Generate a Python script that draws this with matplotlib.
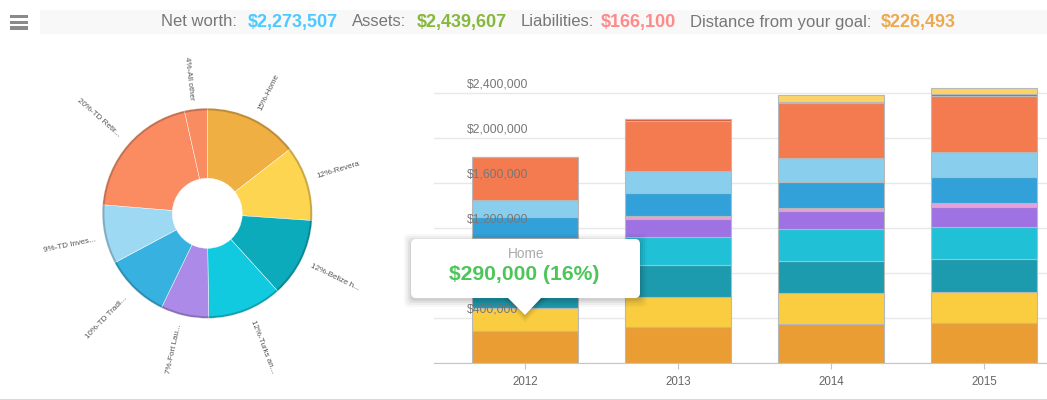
import matplotlib
matplotlib.use("Agg")
import matplotlib.pyplot as plt
from matplotlib.patches import FancyBboxPatch, Polygon, Rectangle

plt.rcParams["font.family"] = ["Liberation Sans", "DejaVu Sans"]

W, H = 1047, 400

# pie
pie_labels = ["15%-Home", "12%-Revera", "12%-Belize h...", "12%-Turks an...", "7%-Fort Lau...",
              "10%-TD Tradi...", "9%-TD Inves...", "20%-TD Retir...", "4%-All other"]
pie_values = [14.5, 11.6, 12.2, 11.5, 7.4, 10.0, 9.1, 20.2, 3.5]
pie_colors = ["#EFAF42", "#FDD551", "#0BABBB", "#12CADF", "#AC8BE8",
              "#37B1DF", "#9ED9F4", "#FB8C62", "#FA8C62"]

# stacked bars, dollars, bottom to top
years = ["2012", "2013", "2014", "2015"]
home = [290000, 320000, 347000, 356000]
revera = [202000, 272000, 281000, 281000]
belize = [243000, 284000, 284000, 293000]
turks = [226000, 243000, 284000, 284000]
fort = [142000, 166000, 160000, 178000]
pink = [15000, 27000, 21000, 30000]
td_trad = [184000, 204000, 237000, 237000]
td_inv = [154000, 190000, 213000, 222000]
td_retire = [374000, 447000, 486000, 495000]
red = [0, 15000, 12000, 15000]
all_other = [0, 0, 56000, 53000]

series = [home, revera, belize, turks, fort, pink, td_trad, td_inv, td_retire, red, all_other]
bar_colors = ["#EA9D33", "#FACD40", "#1C9AAE", "#20C1D6", "#9E72E2", "#E8A0DC",
              "#32A1DA", "#8ACEEE", "#F47A50", "#E8502F", "#FBD368"]

y_ticks = [0, 400000, 800000, 1200000, 1600000, 2000000, 2400000]
# $800,000 sits behind the tooltip in the reference
y_labelled = [400000, 1200000, 1600000, 2000000, 2400000]

header = [("Net worth:", 161, "#777777", False), ("$2,273,507", 248, "#4CC9FF", True),
          ("Assets:", 352, "#777777", False), ("$2,439,607", 417, "#86B83C", True),
          ("Liabilities:", 521, "#777777", False), ("$166,100", 601, "#FF8A8A", True),
          ("Distance from your goal:", 690, "#777777", False), ("$226,493", 881, "#EBAA50", True)]

fig = plt.figure(figsize=(W / 100, H / 100), dpi=100)

# pie: 105 px radius around (207, 213)
size = 340
ax_pie = fig.add_axes([(207.3 - size / 2) / W, (H - 213.3 - size / 2) / H, size / W, size / H])
wedges, texts = ax_pie.pie(pie_values, labels=pie_labels, colors=pie_colors, startangle=90,
                           counterclock=False, radius=1, labeldistance=1.08, rotatelabels=True,
                           wedgeprops={"width": 2 / 3, "edgecolor": "white", "linewidth": 0.3},
                           textprops={"fontsize": 5.8, "color": "#555555"})
# darker rim on the outer edge
ax_pie.pie(pie_values, colors=["#000000"] * len(pie_values), startangle=90, counterclock=False,
           radius=1, wedgeprops={"width": 0.02, "alpha": 0.2, "linewidth": 0})
ax_pie.set_xlim(-size / 210, size / 210)
ax_pie.set_ylim(-size / 210, size / 210)
ax_pie.set_aspect("equal")

# bars
base_px, top_px = 363.3, 82
ax = fig.add_axes([434 / W, (H - base_px) / H, (W - 434) / W, (base_px - top_px) / H])
bottom = [0, 0, 0, 0]
for vals, c in zip(series, bar_colors):
    ax.bar(range(4), vals, bottom=bottom, width=106 / 153, color=c, edgecolor="#B8B8B8",
           linewidth=0.8, zorder=2)
    bottom = [b + v for b, v in zip(bottom, vals)]

ax.set_xlim((434 - 525.3) / 153, (W - 525.3) / 153)
ax.set_ylim(0, (base_px - top_px) / 45 * 400000)
ax.set_xticks(range(4))
ax.set_xticklabels(years, fontsize=8.3, color="#666666")
ax.set_yticks(y_ticks)
ax.set_yticklabels([])
ax.tick_params(axis="y", length=0)
ax.tick_params(axis="x", length=4, color="#C4C4C4", pad=5)
ax.grid(axis="y", color="#E8E8E8", linewidth=1, zorder=0)
for s in ["top", "right", "left"]:
    ax.spines[s].set_visible(False)
ax.spines["bottom"].set_color("#C4C4C4")
for v in y_labelled:
    ax.annotate(f"${v:,}", xy=(-0.381, v), xytext=(0, 4.2), textcoords="offset points",
                fontsize=8.7, color="#777777", zorder=5)

# header and tooltip, in pixel coordinates
over = fig.add_axes([0, 0, 1, 1], zorder=10)
over.set_xlim(0, W)
over.set_ylim(H, 0)
over.axis("off")

over.add_patch(Rectangle((40, 10), W - 40, 24, color="#F8F8F8", lw=0))
for y in [14.5, 20.5, 26]:
    over.add_patch(Rectangle((10, y), 18, 3.8, color="#8A8A8A", lw=0))
for txt, x, c, bold in header:
    over.text(x, 22, txt, fontsize=13 if bold else 12, color=c, va="center", ha="left",
              fontweight="bold" if bold else "normal")

# tooltip shadow
for grow, a in [(7, 0.03), (5, 0.04), (3, 0.05), (1, 0.07)]:
    over.add_patch(FancyBboxPatch((411 - grow, 239 + 2 - grow), 229 + 2 * grow, 59 + 2 * grow,
                                  boxstyle="round,pad=0,rounding_size=5", fc="black", ec="none", alpha=a))
    over.add_patch(Polygon([(507 - grow, 296), (544 + grow, 296), (525, 316 + grow)], fc="black", ec="none", alpha=a))
over.add_patch(FancyBboxPatch((411, 239), 229, 59, boxstyle="round,pad=0,rounding_size=5", fc="white", ec="none"))
over.add_patch(Polygon([(507, 297), (542, 297), (525, 315)], fc="white", ec="none"))
over.text(526, 253.5, "Home", fontsize=9.8, color="#AAAAAA", ha="center", va="center")
over.text(524.5, 275, "$290,000 (16%)", fontsize=15.2, color="#4CC659", ha="center", va="center", fontweight="bold")

over.add_patch(Rectangle((0, 398.5), W, 1.5, color="#D8D8D8", lw=0))

fig.savefig("out.png", dpi=100)
